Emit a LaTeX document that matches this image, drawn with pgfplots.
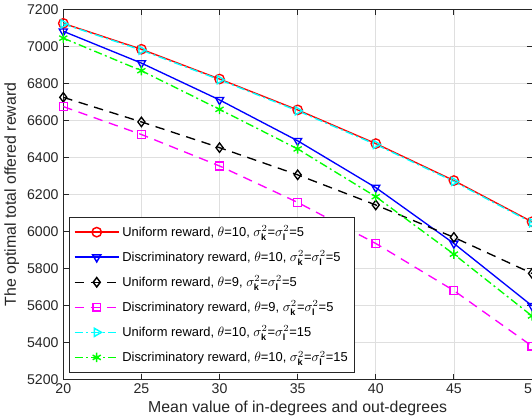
\documentclass[border=0pt]{standalone}
\usepackage{pgfplots}
\pgfplotsset{compat=1.18}
\usepackage{fontspec}
\setmainfont{Liberation Sans}
\definecolor{mgray}{RGB}{38,38,38}
\definecolor{ggrid}{RGB}{223,223,223}
\definecolor{mgreen}{RGB}{0,255,0}
\definecolor{mcyan}{RGB}{0,255,255}
\definecolor{mmag}{RGB}{255,0,255}
\newcommand{\sig}[1]{$\sigma^2_{\mathbf{k}}$=$\sigma^2_{\mathbf{l}}$=#1}
\begin{document}
\begin{tikzpicture}[trim axis right]
\begin{axis}[
    width=348.75pt, height=275.25pt,
    scale only axis,
    xmin=20, xmax=50,
    ymin=5200, ymax=7200,
    xtick={20,25,...,50},
    ytick={5200,5400,...,7200},
    grid=major,
    grid style={ggrid, line width=0.5pt},
    axis line style={mgray, line width=0.6pt},
    tick style={mgray, line width=0.6pt},
    major tick length=4pt,
    tick align=inside,
    ticklabel style={font=\fontsize{10.5}{12}\selectfont, text=mgray},
    /pgf/number format/assume math mode=true,
    /pgf/number format/1000 sep={},
    xlabel={Mean value of in-degrees and out-degrees},
    ylabel={The optimal total offered reward},
    label style={font=\fontsize{11.8}{14}\selectfont, text=mgray},
    xlabel style={yshift=2pt},
    ylabel style={yshift=-1pt},
    legend style={
        at={(rel axis cs:0.013,0.019)}, anchor=south west,
        font=\fontsize{9.6}{11.5}\selectfont,
        draw=mgray, line width=0.6pt,
        row sep=5pt,
        inner xsep=3pt, inner ysep=4pt,
        cells={anchor=west},
    },
    legend image code/.code={
        \draw[mark repeat=2, mark phase=2, #1]
        plot coordinates {(0cm,0cm) (0.58cm,0cm) (1.16cm,0cm)};},
    legend image post style={line width=1.1pt},
    every axis plot/.append style={line width=1pt, mark size=3.5pt},
]
\addplot[red, mark=o] coordinates {
(20,7125)(25,6985)(30,6824)(35,6657)(40,6475)(45,6275)(50,6052)};
\addlegendentry{Uniform reward, $\theta$=10, \sig{5}}
\addplot[blue, mark=triangle, mark options={rotate=180}] coordinates {
(20,7082)(25,6910)(30,6711)(35,6490)(40,6237)(45,5935)(50,5598)};
\addlegendentry{Discriminatory reward, $\theta$=10, \sig{5}}
\addplot[black, dash pattern=on 7pt off 5pt, mark=diamond, mark options={solid}] coordinates {
(20,6725)(25,6592)(30,6453)(35,6306)(40,6143)(45,5968)(50,5773)};
\addlegendentry{Uniform reward, $\theta$=9, \sig{5}}
\addplot[mmag, dash pattern=on 7pt off 5pt, mark=square, mark size=2.9pt, mark options={solid}] coordinates {
(20,6675)(25,6524)(30,6354)(35,6157)(40,5935)(45,5680)(50,5380)};
\addlegendentry{Discriminatory reward, $\theta$=9, \sig{5}}
\addplot[mcyan, dash pattern=on 6pt off 2.5pt on 1.5pt off 2.5pt, mark=triangle, mark options={solid, rotate=-90}] coordinates {
(20,7122)(25,6980)(30,6820)(35,6652)(40,6470)(45,6270)(50,6047)};
\addlegendentry{Uniform reward, $\theta$=10, \sig{15}}
\addplot[mgreen, dash pattern=on 6pt off 2.5pt on 1.5pt off 2.5pt, mark=asterisk, mark options={solid}] coordinates {
(20,7045)(25,6869)(30,6660)(35,6446)(40,6188)(45,5877)(50,5543)};
\addlegendentry{Discriminatory reward, $\theta$=10, \sig{15}}
\end{axis}
\end{tikzpicture}
\end{document}
